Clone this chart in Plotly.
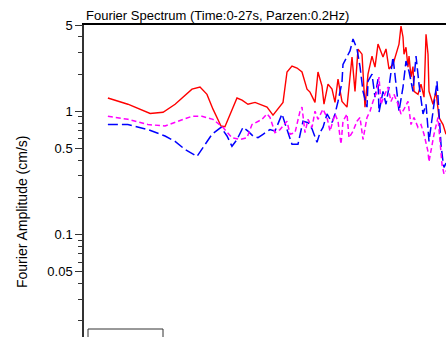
import plotly.graph_objects as go
import math

# ---- data (frequency in Hz, Fourier amplitude in cm/s) ----
red_f = [0.141, 0.188, 0.259, 0.312, 0.371, 0.473, 0.531, 0.587, 0.640, 0.718, 0.760,
         0.904, 0.972, 1.059, 1.172, 1.259, 1.393, 1.518, 1.631, 1.753, 1.857, 1.995,
         2.145, 2.304, 2.477, 2.585, 2.778, 2.900, 3.073, 3.162, 3.350, 3.548, 3.705,
         3.868, 4.097, 4.403, 4.732, 4.940, 5.158, 5.464, 5.705, 5.957, 6.310, 6.588,
         6.879, 7.392, 7.718, 8.058, 8.536, 9.042, 9.306, 9.578, 9.857, 10.00, 10.29,
         10.59, 10.75, 11.06, 11.38, 11.55, 12.23, 12.77, 13.34, 13.73, 14.13, 14.33,
         15.18, 15.85, 16.55, 17.53, 18.30]
red_a = [1.28, 1.14, 0.96, 0.98, 1.14, 1.51, 1.57, 1.37, 1.04, 0.76, 0.75,
         1.28, 1.23, 1.14, 1.18, 1.14, 1.08, 0.93, 1.04, 1.18, 2.08, 2.32,
         2.24, 2.08, 1.51, 1.43, 1.18, 2.08, 1.60, 1.14, 1.66, 1.51, 1.18,
         1.82, 1.20, 1.08, 2.75, 1.45, 3.19, 2.90, 1.08, 2.00, 2.80, 2.28,
         3.50, 2.75, 3.20, 2.20, 2.40, 3.00, 3.50, 4.90, 4.00, 2.90, 3.30,
         2.28, 2.80, 1.89, 2.30, 1.45, 1.37, 1.66, 1.30, 4.20, 2.90, 1.45,
         1.14, 1.45, 0.89, 0.78, 0.65]

blue_f = [0.141, 0.188, 0.251, 0.321, 0.371, 0.428, 0.508, 0.571, 0.631, 0.718,
          0.783, 0.841, 0.904, 0.986, 1.059, 1.138, 1.223, 1.315, 1.454, 1.562,
          1.728, 1.857, 1.995, 2.175, 2.337, 2.512, 2.661, 2.859, 2.985, 3.117,
          3.302, 3.548, 3.705, 3.868, 4.097, 4.156, 4.403, 4.597, 4.800, 5.084,
          5.309, 5.543, 5.872, 5.957, 6.310, 6.588, 6.879, 6.978, 7.392, 7.718,
          8.058, 8.536, 8.913, 9.306, 9.857, 10.29, 10.75, 11.38, 11.89, 12.41,
          13.15, 13.73, 14.33, 14.75, 15.40, 16.08, 16.55, 17.03, 17.53, 17.78, 18.30]
blue_a = [0.78, 0.78, 0.71, 0.63, 0.57, 0.49, 0.43, 0.54, 0.65, 0.74,
          0.63, 0.52, 0.59, 0.74, 0.69, 0.63, 0.61, 0.65, 0.71, 0.69,
          0.95, 0.71, 0.54, 0.54, 0.83, 0.81, 0.72, 0.56, 0.67, 0.74,
          0.95, 0.81, 0.95, 1.20, 1.72, 2.40, 2.80, 3.08, 3.85, 3.20,
          2.30, 1.45, 1.08, 1.75, 2.00, 1.30, 1.82, 0.98, 1.45, 1.14,
          1.57, 2.75, 1.66, 1.00, 1.57, 2.55, 2.10, 1.45, 2.80, 1.66,
          0.95, 1.14, 0.57, 0.78, 1.14, 1.75, 1.00, 0.54, 0.39, 0.35, 0.38]

mag_f = [0.141, 0.188, 0.251, 0.321, 0.387, 0.473, 0.546, 0.640, 0.718, 0.739,
         0.841, 0.944, 1.044, 1.122, 1.296, 1.393, 1.454, 1.562, 1.679, 1.857,
         1.939, 2.084, 2.239, 2.304, 2.406, 2.512, 2.661, 2.778, 2.900, 3.117,
         3.302, 3.448, 3.705, 3.868, 4.039, 4.156, 4.403, 4.532, 4.800, 5.084,
         5.309, 5.543, 5.872, 6.131, 6.401, 6.780, 6.978, 7.182, 7.499, 7.943,
         8.294, 8.660, 9.173, 9.578, 10.00, 10.59, 11.06, 11.55, 12.23, 12.77,
         13.34, 14.13, 14.33, 15.40, 16.31, 16.79, 17.28, 17.78, 18.30]
mag_a = [0.91, 0.86, 0.78, 0.76, 0.83, 0.91, 0.91, 0.86, 0.76, 0.74,
         0.61, 0.59, 0.61, 0.78, 0.86, 0.95, 0.89, 0.67, 0.71, 0.83,
         0.65, 0.67, 1.00, 1.08, 0.67, 0.86, 0.74, 1.00, 0.86, 1.04,
         0.89, 0.69, 0.95, 0.83, 0.54, 0.83, 0.95, 0.61, 0.69, 0.83,
         0.89, 0.59, 0.89, 1.00, 1.20, 1.45, 1.89, 1.14, 1.32, 1.57,
         1.20, 1.37, 1.14, 0.95, 1.04, 1.20, 0.78, 0.89, 0.74, 0.78,
         0.65, 0.47, 0.39, 0.65, 0.89, 0.54, 0.37, 0.31, 0.33]

y_major = [0.05, 0.1, 0.5, 1, 5]
y_major_text = ["0.05", "0.1", "0.5", "1", "5"]
y_minor = [0.02, 0.03, 0.04, 0.06, 0.07, 0.08, 0.09, 0.2, 0.3, 0.4,
           0.6, 0.7, 0.8, 0.9, 2, 3, 4]

title_text = "Fourier Spectrum (Time:0-27s, Parzen:0.2Hz)"
ytitle_text = "Fourier Amplitude (cm/s)"

FONT = "Arial, Liberation Sans, sans-serif"

fig = go.Figure()
fig.add_trace(go.Scatter(x=red_f, y=red_a, mode="lines",
                         line=dict(color="#ff0000", width=1.4)))
fig.add_trace(go.Scatter(x=blue_f, y=blue_a, mode="lines",
                         line=dict(color="#0000ff", width=1.5, dash="10px,4px")))
fig.add_trace(go.Scatter(x=mag_f, y=mag_a, mode="lines",
                         line=dict(color="#ff00ff", width=1.5, dash="5px,3px")))

fig.update_layout(
    width=446, height=337,
    margin=dict(l=84, r=0, t=25, b=0, autoexpand=False),
    paper_bgcolor="white", plot_bgcolor="white",
    showlegend=False,
    font=dict(family=FONT, color="#000"),
    xaxis=dict(type="log", range=[-1, 1.2625], side="top",
               showline=True, linecolor="#000", linewidth=2,
               showgrid=False, zeroline=False, ticks="", showticklabels=False),
    yaxis=dict(type="log", range=[math.log10(0.0148), math.log10(5)],
               showline=True, linecolor="#333", linewidth=1.5,
               showgrid=False, zeroline=False,
               tickmode="array", tickvals=y_major, ticktext=y_major_text,
               ticks="outside", ticklen=7, tickwidth=1, tickcolor="#333",
               tickfont=dict(size=13, family=FONT, color="#000"),
               minor=dict(tickmode="array", tickvals=y_minor, ticks="outside",
                          ticklen=4, tickwidth=1, tickcolor="#333", showgrid=False)),
    annotations=[
        dict(text=title_text, xref="paper", yref="paper", x=0, y=1,
             xanchor="left", yanchor="bottom", showarrow=False,
             font=dict(size=13, family=FONT, color="#000")),
        dict(text=ytitle_text, xref="paper", yref="paper",
             x=(22 - 84) / 362, y=0.4006, xanchor="center", yanchor="middle",
             textangle=-90, showarrow=False,
             font=dict(size=14, family=FONT, color="#000")),
    ],
    shapes=[
        dict(type="rect", xref="paper", yref="paper",
             x0=4 / 362, x1=79 / 362, y0=-0.2, y1=8 / 312,
             line=dict(color="#333", width=1), fillcolor="rgba(0,0,0,0)"),
    ],
)

fig.write_html("out.html")
